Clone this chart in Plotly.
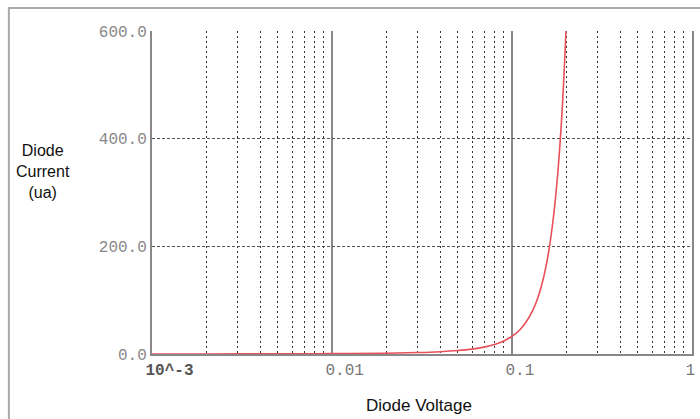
import plotly.graph_objects as go

# Data
voltage = [0.001, 0.002, 0.005, 0.01, 0.02, 0.03, 0.04, 0.05, 0.06, 0.07, 0.08,
           0.09, 0.1, 0.11, 0.12, 0.13, 0.14, 0.15, 0.16, 0.17, 0.18, 0.19, 0.1995]
current = [0.06, 0.12, 0.31, 0.66, 1.5, 2.7, 4.3, 6.4, 9.1, 12.8, 17.7,
           24.2, 33, 44, 60, 80, 107, 143, 191, 255, 340, 454, 600]

x_tick_vals = [0.001, 0.01, 0.1, 1]
x_tick_text = ["<b><span style='color:#555'>10^-3</span></b>", "0.01", "0.1", "1"]
y_tick_vals = [0, 200, 400, 600]
y_tick_text = ["0.0", "200.0", "400.0", "600.0"]

minor_vals = [m * 10 ** e for e in (-3, -2, -1) for m in range(2, 10)]

fig = go.Figure()
fig.add_trace(go.Scatter(
    x=voltage, y=current, mode="lines",
    line=dict(color="#e8505a", width=1.6, shape="spline"),
    showlegend=False, hoverinfo="skip", cliponaxis=False,
))

fig.update_layout(
    width=700, height=419,
    margin=dict(l=152, r=8, t=31, b=65, autoexpand=False),
    paper_bgcolor="white", plot_bgcolor="white",
    xaxis=dict(
        type="log", range=[-3, 0],
        tickmode="array", tickvals=x_tick_vals, ticktext=x_tick_text,
        tickfont=dict(family="Liberation Mono", size=16, color="#777"),
        ticklabelposition="outside right", ticklabelshift=-8,
        ticklabeloverflow="allow",
        ticks="outside", ticklen=6, tickcolor="rgba(0,0,0,0)",
        showgrid=True, gridcolor="#888", gridwidth=1.5,
        showline=True, linecolor="#888", linewidth=2,
        zeroline=False, automargin=False,
        minor=dict(tickmode="array", tickvals=minor_vals, showgrid=True,
                   gridcolor="#333", griddash="2px,3px", gridwidth=1.3, ticks=""),
    ),
    yaxis=dict(
        range=[0, 600],
        tickmode="array", tickvals=y_tick_vals, ticktext=y_tick_text,
        tickfont=dict(family="Liberation Mono", size=16, color="#888"),
        showgrid=True, gridcolor="#555", griddash="3px,2px", gridwidth=1,
        showline=True, mirror=True, linecolor="#888", linewidth=2,
        zeroline=False, ticks="", automargin=False,
    ),
    shapes=[dict(type="rect", xref="paper", yref="paper",
                 x0=-0.265, x1=1.1, y0=-0.3, y1=1.071,
                 line=dict(color="#aaa", width=2), layer="below")],
    annotations=[
        dict(text="Diode<br>Current<br>(ua)", xref="paper", yref="paper",
             x=-0.202, y=0.5635, xanchor="center", yanchor="middle",
             showarrow=False, align="center",
             font=dict(family="Liberation Sans", size=16, color="#111")),
        dict(text="Diode Voltage", xref="paper", yref="paper",
             x=0.494, y=-0.158, xanchor="center", yanchor="middle",
             showarrow=False,
             font=dict(family="Liberation Sans", size=17, color="#111")),
    ],
)

fig.write_html("out.html", config={"displayModeBar": False},
               post_script="document.body.style.margin='0';document.body.style.padding='0';")
